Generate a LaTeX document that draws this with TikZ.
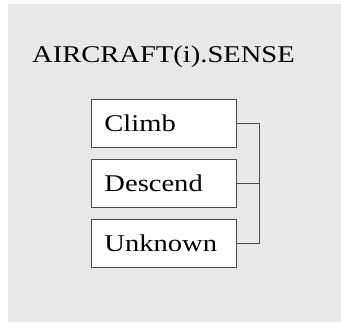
\documentclass[tikz,border=0pt]{standalone}
\usepackage{fontspec}
\setmainfont{Liberation Serif}
\usetikzlibrary{positioning}

% wide type used for every label
\newcommand{\widetext}[1]{\scalebox{1.19}[1]{#1}}

\begin{document}
\begin{tikzpicture}[
        x=1pt,
        y=-1pt,
        every node/.style={font=\fontsize{24}{27}\selectfont},
        valuebox/.style={draw=black!70, fill=white, line width=0.9pt,
          minimum height=48pt, text width=119pt, inner xsep=13pt,
          inner ysep=0pt, align=left, anchor=north west},
        bracket/.style={draw=black!70, line width=0.9pt}
      ]

      % --- 1. Background panel ---
      \useasboundingbox (0, 0) rectangle (341, 324);
      \fill[black!9] (8, 4) rectangle (341, 322);

      % --- 2. Title ---
      \node[anchor=base west, inner sep=0pt] (title) at (32, 63) {\widetext{AIRCRAFT(i).SENSE}};

      % --- 3. Enumeration values ---
      \node[valuebox] (climb)   at (91, 99)  {\widetext{Climb}};
      \node[valuebox] (descend) at (91, 159) {\widetext{Descend}};
      \node[valuebox] (unknown) at (91, 219) {\widetext{Unknown}};

      % --- 4. Grouping bracket ---
      \draw[bracket] (climb.east) -- ++(23, 0) |- (unknown.east);
      \draw[bracket] (descend.east) -- ++(23, 0);

    \end{tikzpicture}
\end{document}
